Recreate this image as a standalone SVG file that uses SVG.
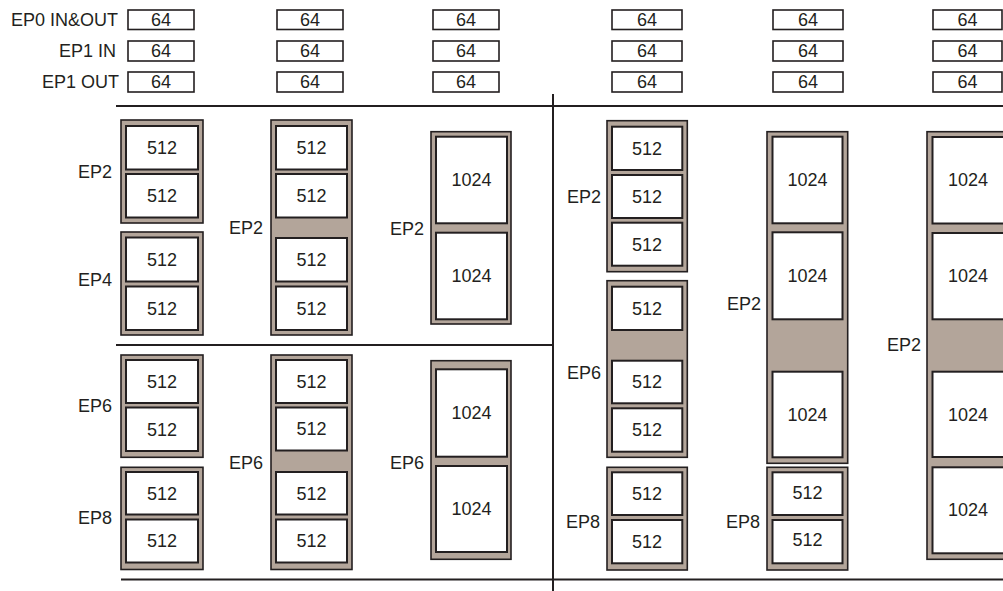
<svg xmlns="http://www.w3.org/2000/svg" width="1003" height="591" viewBox="0 0 1003 591">
<style>
.frame{fill:#b3a59a;stroke:#231f20;stroke-width:1.6}
.cell{fill:#fff;stroke:#231f20;stroke-width:2}
.small{fill:#fff;stroke:#231f20;stroke-width:1.6}
.t{font-family:"Liberation Sans",Arial,sans-serif;font-size:18px;fill:#231f20}
.c{text-anchor:middle}
.e{text-anchor:end}
.ln{stroke:#231f20;stroke-width:2;fill:none}
</style>
<rect width="1003" height="591" fill="#fff"/>
<g id="connectors">
<line class="ln" x1="116" y1="106" x2="1003" y2="106"/>
<line class="ln" x1="116" y1="345" x2="553" y2="345"/>
<line class="ln" x1="121" y1="579.5" x2="1003" y2="579.5"/>
<line class="ln" x1="553" y1="94" x2="553" y2="591"/>
</g>
<g id="labels-top">
<text class="t e" x="118" y="26.4">EP0 IN&amp;OUT</text>
<text class="t e" x="116" y="57.4">EP1 IN</text>
<text class="t e" x="119" y="88.4">EP1 OUT</text>
</g>
<g id="ep64">
<rect class="small" x="128" y="10" width="66" height="19.5"/><text class="t c" x="161" y="26.4">64</text>
<rect class="small" x="128" y="41" width="66" height="20"/><text class="t c" x="161" y="57.4">64</text>
<rect class="small" x="128" y="72" width="66" height="20"/><text class="t c" x="161" y="88.4">64</text>
<rect class="small" x="277" y="10" width="66" height="19.5"/><text class="t c" x="310" y="26.4">64</text>
<rect class="small" x="277" y="41" width="66" height="20"/><text class="t c" x="310" y="57.4">64</text>
<rect class="small" x="277" y="72" width="66" height="20"/><text class="t c" x="310" y="88.4">64</text>
<rect class="small" x="433" y="10" width="66" height="19.5"/><text class="t c" x="466" y="26.4">64</text>
<rect class="small" x="433" y="41" width="66" height="20"/><text class="t c" x="466" y="57.4">64</text>
<rect class="small" x="433" y="72" width="66" height="20"/><text class="t c" x="466" y="88.4">64</text>
<rect class="small" x="612" y="10" width="70" height="19.5"/><text class="t c" x="647" y="26.4">64</text>
<rect class="small" x="612" y="41" width="70" height="20"/><text class="t c" x="647" y="57.4">64</text>
<rect class="small" x="612" y="72" width="70" height="20"/><text class="t c" x="647" y="88.4">64</text>
<rect class="small" x="773" y="10" width="70" height="19.5"/><text class="t c" x="808" y="26.4">64</text>
<rect class="small" x="773" y="41" width="70" height="20"/><text class="t c" x="808" y="57.4">64</text>
<rect class="small" x="773" y="72" width="70" height="20"/><text class="t c" x="808" y="88.4">64</text>
<rect class="small" x="933" y="10" width="69" height="19.5"/><text class="t c" x="967.5" y="26.4">64</text>
<rect class="small" x="933" y="41" width="69" height="20"/><text class="t c" x="967.5" y="57.4">64</text>
<rect class="small" x="933" y="72" width="69" height="20"/><text class="t c" x="967.5" y="88.4">64</text>
</g>
<g id="c1-top">
<rect class="frame" x="121" y="120" width="82" height="103"/>
<rect class="cell" x="126" y="126" width="72" height="43.5"/><text class="t c" x="162" y="154.2">512</text>
<rect class="cell" x="126" y="174" width="72" height="43.5"/><text class="t c" x="162" y="202.2">512</text>
<text class="t e" x="112" y="178.4">EP2</text>
<rect class="frame" x="121" y="232" width="82" height="103"/>
<rect class="cell" x="126" y="237.5" width="72" height="44"/><text class="t c" x="162" y="265.9">512</text>
<rect class="cell" x="126" y="286.5" width="72" height="43.5"/><text class="t c" x="162" y="314.7">512</text>
<text class="t e" x="112" y="286.4">EP4</text>
</g>
<g id="c2-top">
<rect class="frame" x="271" y="120" width="81" height="215"/>
<rect class="cell" x="276" y="126" width="71" height="43.5"/><text class="t c" x="311.5" y="154.2">512</text>
<rect class="cell" x="276" y="174" width="71" height="43.5"/><text class="t c" x="311.5" y="202.2">512</text>
<rect class="cell" x="276" y="238" width="71" height="43.5"/><text class="t c" x="311.5" y="266.2">512</text>
<rect class="cell" x="276" y="286.5" width="71" height="43.5"/><text class="t c" x="311.5" y="314.7">512</text>
<text class="t e" x="263" y="234.4">EP2</text>
</g>
<g id="c3-top">
<rect class="frame" x="431" y="131.7" width="80" height="192.3"/>
<rect class="cell" x="436" y="136.7" width="71" height="86.6"/><text class="t c" x="471.5" y="186.4">1024</text>
<rect class="cell" x="436" y="232.7" width="71" height="86.6"/><text class="t c" x="471.5" y="282.4">1024</text>
<text class="t e" x="424" y="235.4">EP2</text>
</g>
<g id="c1-bot">
<rect class="frame" x="121" y="355" width="82" height="102.3"/>
<rect class="cell" x="126" y="360" width="72" height="43"/><text class="t c" x="162" y="387.9">512</text>
<rect class="cell" x="126" y="407.5" width="72" height="43.5"/><text class="t c" x="162" y="435.7">512</text>
<text class="t e" x="112" y="412.4">EP6</text>
<rect class="frame" x="121" y="467.3" width="82" height="102.2"/>
<rect class="cell" x="126" y="472" width="72" height="42.5"/><text class="t c" x="162" y="499.7">512</text>
<rect class="cell" x="126" y="519.5" width="72" height="43"/><text class="t c" x="162" y="547.4">512</text>
<text class="t e" x="112" y="524.4">EP8</text>
</g>
<g id="c2-bot">
<rect class="frame" x="271" y="355" width="81" height="214.5"/>
<rect class="cell" x="276" y="360" width="71" height="43"/><text class="t c" x="311.5" y="387.9">512</text>
<rect class="cell" x="276" y="407.5" width="71" height="43"/><text class="t c" x="311.5" y="435.4">512</text>
<rect class="cell" x="276" y="472" width="71" height="42.5"/><text class="t c" x="311.5" y="499.7">512</text>
<rect class="cell" x="276" y="519.5" width="71" height="43"/><text class="t c" x="311.5" y="547.4">512</text>
<text class="t e" x="263" y="469.4">EP6</text>
</g>
<g id="c3-bot">
<rect class="frame" x="431" y="360.7" width="80" height="198.6"/>
<rect class="cell" x="436" y="369.3" width="71" height="87.4"/><text class="t c" x="471.5" y="419.4">1024</text>
<rect class="cell" x="436" y="466" width="71" height="86"/><text class="t c" x="471.5" y="515.4">1024</text>
<text class="t e" x="424" y="469.4">EP6</text>
</g>
<g id="c4">
<rect class="frame" x="607" y="120.7" width="80.3" height="151"/>
<rect class="cell" x="612" y="126.7" width="70.3" height="43.3"/><text class="t c" x="647" y="154.7">512</text>
<rect class="cell" x="612" y="175" width="70.3" height="43"/><text class="t c" x="647" y="202.9">512</text>
<rect class="cell" x="612" y="222.7" width="70.3" height="43"/><text class="t c" x="647" y="250.6">512</text>
<text class="t e" x="601" y="202.9">EP2</text>
<rect class="frame" x="607" y="280.7" width="80.3" height="176.6"/>
<rect class="cell" x="612" y="286.7" width="70.3" height="43.3"/><text class="t c" x="647" y="314.7">512</text>
<rect class="cell" x="612" y="360.7" width="70.3" height="42.6"/><text class="t c" x="647" y="388.4">512</text>
<rect class="cell" x="612" y="408.3" width="70.3" height="43.4"/><text class="t c" x="647" y="436.4">512</text>
<text class="t e" x="601" y="378.7">EP6</text>
<rect class="frame" x="607" y="467.3" width="80.3" height="102.7"/>
<rect class="cell" x="612" y="472.3" width="70.3" height="42.7"/><text class="t c" x="647" y="500.1">512</text>
<rect class="cell" x="612" y="520" width="70.3" height="43.3"/><text class="t c" x="647" y="548">512</text>
<text class="t e" x="600" y="528.1">EP8</text>
</g>
<g id="c5">
<rect class="frame" x="767" y="131.7" width="80.7" height="331.6"/>
<rect class="cell" x="772.5" y="136.7" width="70" height="86.6"/><text class="t c" x="807.5" y="186.4">1024</text>
<rect class="cell" x="772.5" y="232.3" width="70" height="87"/><text class="t c" x="807.5" y="282.2">1024</text>
<rect class="cell" x="772.5" y="371.7" width="70" height="85.6"/><text class="t c" x="807.5" y="420.9">1024</text>
<text class="t e" x="761" y="309.7">EP2</text>
<rect class="frame" x="767" y="467.3" width="80.7" height="102.7"/>
<rect class="cell" x="772.5" y="472.3" width="70" height="42.7"/><text class="t c" x="807.5" y="498.6">512</text>
<rect class="cell" x="772.5" y="520" width="70" height="43.3"/><text class="t c" x="807.5" y="546.4">512</text>
<text class="t e" x="760" y="528.1">EP8</text>
</g>
<g id="c6">
<rect class="frame" x="927" y="131.7" width="84" height="427.6"/>
<rect class="cell" x="932.5" y="137" width="74" height="86.5"/><text class="t c" x="968" y="186.4">1024</text>
<rect class="cell" x="932.5" y="233" width="74" height="86.3"/><text class="t c" x="968" y="282.4">1024</text>
<rect class="cell" x="932.5" y="371.7" width="74" height="85.3"/><text class="t c" x="968" y="420.9">1024</text>
<rect class="cell" x="932.5" y="467.3" width="74" height="86"/><text class="t c" x="968" y="516.4">1024</text>
<text class="t e" x="921" y="351.4">EP2</text>
</g>
</svg>
